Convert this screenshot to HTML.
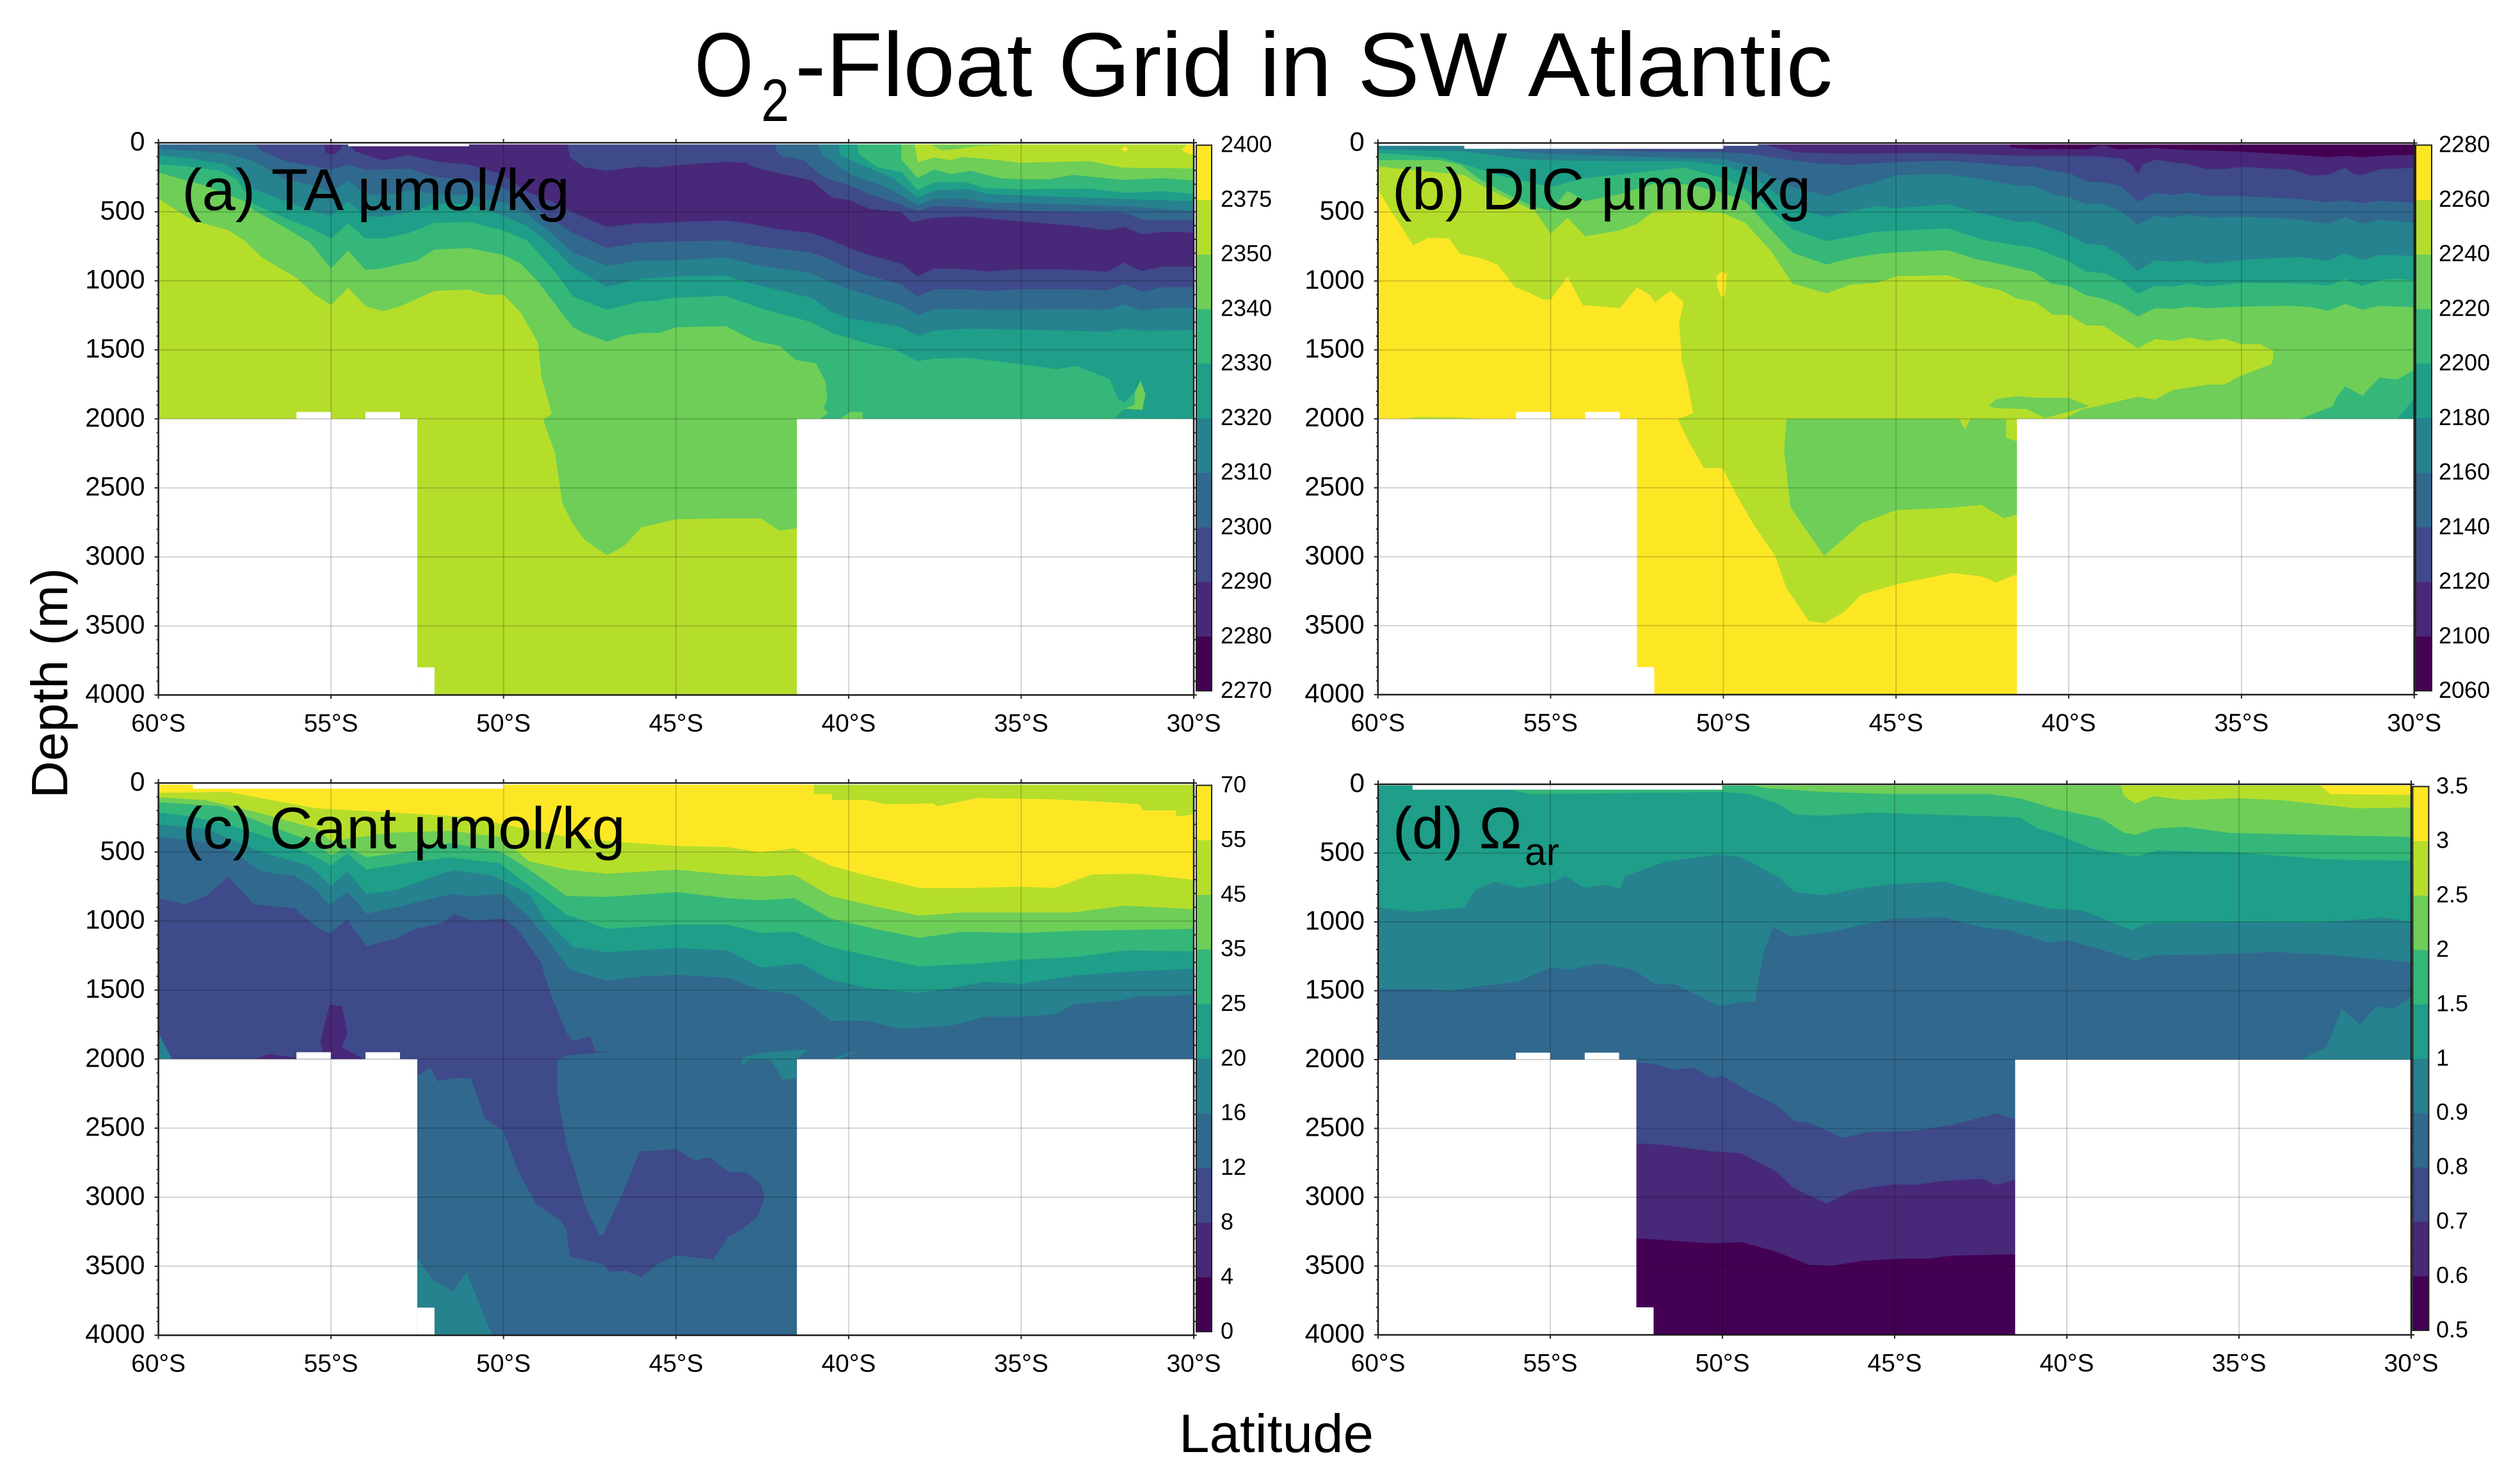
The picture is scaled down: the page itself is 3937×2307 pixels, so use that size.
<!DOCTYPE html>
<html lang="en">
<head>
<meta charset="utf-8">
<title>O2-Float Grid in SW Atlantic</title>
<style>
html,body{margin:0;padding:0;background:#fff;}
svg{display:block;}
text{font-family:"Liberation Sans",sans-serif;fill:#000;}
</style>
</head>
<body>
<svg id="figure" xmlns="http://www.w3.org/2000/svg" width="3937" height="2307" viewBox="0 0 3937 2307">
<rect x="0" y="0" width="3937" height="2307" fill="#fff"/>
<g id="panels"></g>
<g>
<text x="1085" y="150" font-size="142" textLength="92" lengthAdjust="spacingAndGlyphs">O</text>
<text x="1189" y="189" font-size="94" textLength="44" lengthAdjust="spacingAndGlyphs">2</text>
<text x="1242" y="150" font-size="142" textLength="1621" lengthAdjust="spacingAndGlyphs">-Float Grid in SW Atlantic</text>
</g>
<text transform="translate(105,1247) rotate(-90)" font-size="80" textLength="360" lengthAdjust="spacingAndGlyphs">Depth (m)</text>
<text x="1842" y="2268" font-size="84" textLength="304" lengthAdjust="spacingAndGlyphs">Latitude</text>
</svg>
<script>
/* ---------- shared ---------- */
const viridisBands = ['#440154','#482878','#3e4a89','#31688e','#26828e','#1f9e89','#35b779','#6ece58','#b5de2b','#fde725'];
const latTicks = [-60,-55,-50,-45,-40,-35,-30];
const latTickLabels = ['60°S','55°S','50°S','45°S','40°S','35°S','30°S'];
const depthTicks = [0,500,1000,1500,2000,2500,3000,3500,4000];
const depthTickLabels = ['0','500','1000','1500','2000','2500','3000','3500','4000'];

/* ---------- colourbar labels ---------- */
const taLevelLabels = ['2270','2280','2290','2300','2310','2320','2330','2340','2350','2375','2400'];
const dicLevelLabels = ['2060','2100','2120','2140','2160','2180','2200','2220','2240','2260','2280'];
const cantLevelLabels = ['0','4','8','12','16','20','25','35','45','55','70'];
const omegaLevelLabels = ['0.5','0.6','0.7','0.8','0.9','1','1.5','2','2.5','3','3.5'];

/* ---------- missing-data masks: [lat west, lat east, depth top, depth bottom] ---------- */
const floorMaskTA = [[-60,-52.5,2000,4000],[-52.5,-52,3800,4000],[-41.5,-30,2000,4000],[-56,-55,1950,2000],[-54,-53,1950,2000],[-60,-30,0,12],[-54.5,-51,0,25]];
const floorMaskDIC = [[-60,-52.5,2000,4000],[-52.5,-52,3800,4000],[-41.5,-30,2000,4000],[-56,-55,1950,2000],[-54,-53,1950,2000],[-60,-49,0,20],[-49,-30,0,10],[-57.5,-50,0,42]];
const floorMaskCant = [[-60,-52.5,2000,4000],[-52.5,-52,3800,4000],[-41.5,-30,2000,4000],[-56,-55,1950,2000],[-54,-53,1950,2000],[-60,-30,0,12],[-59,-50,0,41]];
const floorMaskOmega = [[-60,-52.5,2000,4000],[-52.5,-52,3800,4000],[-41.5,-30,2000,4000],[-56,-55,1950,2000],[-54,-53,1950,2000],[-60,-30,0,8],[-59,-50,0,39]];

/* ---------- (a) TA contours: [latitude, depth] ---------- */
const ta2350 = [[-60,405],[-59,565],[-58,630],[-57.5,710],[-57,830],[-56,980],[-55.5,1095],[-55,1175],[-54.5,1050],[-54,1185],[-53.5,1220],[-53,1185],[-52,1073],[-51,1064],[-50.5,1100],[-50,1100],[-49.5,1230],[-49,1450],[-48.9,1700],[-48.6,1960],[-48.85,2010],[-48.5,2254],[-48.3,2610],[-48,2757],[-47.66,2875],[-47,2988],[-46.5,2920],[-46,2786],[-45,2727],[-43.5,2721],[-42.55,2721],[-42,2810],[-41.5,2792],[-30,2792]];
const ta2340 = [[-60,215],[-58.67,309],[-57.5,424],[-57.25,486],[-56.3,618],[-55.6,724],[-55,910],[-54.5,781],[-54,922],[-53.5,910],[-52.5,852],[-52,774],[-51,763],[-50,813],[-49.5,875],[-49,1007],[-48,1334],[-47.67,1378],[-47,1440],[-46.5,1396],[-46,1378],[-45.5,1378],[-45,1337],[-43.56,1328],[-42.73,1434],[-42,1470],[-41.54,1573],[-40.95,1597],[-40.66,1736],[-40.62,1860],[-40.72,1922],[-40.6,1957],[-40.83,2000],[-30,2000]];
const ta2330 = [[-60,155],[-59.27,168],[-58.2,203],[-57.73,265],[-57.25,442],[-56.3,548],[-55.5,627],[-55,693],[-54.5,583],[-54,694],[-53.5,694],[-52.75,654],[-52,580],[-51,574],[-50,636],[-49.33,707],[-49,795],[-48.5,937],[-48,1113],[-47,1210],[-46.04,1149],[-45.57,1145],[-45,1122],[-43.56,1110],[-42.5,1202],[-41.07,1299],[-40.48,1378],[-39.41,1458],[-38.7,1493],[-38,1582],[-37.52,1564],[-36.57,1558],[-35.04,1604],[-33.97,1640],[-33.38,1617],[-32.43,1714],[-32.2,1855],[-32,1882],[-31.7,1802],[-31.72,1908],[-32,1930],[-32.32,1995],[-30,2000]];
const ta2320 = [[-60,88],[-59.03,115],[-58,159],[-57.25,336],[-56.3,424],[-55.5,495],[-55,530],[-54.5,424],[-54,530],[-53.5,539],[-52.75,504],[-52,442],[-51,442],[-50,530],[-49.33,601],[-48.62,742],[-48,901],[-47,1043],[-46.04,986],[-45,968],[-43.56,963],[-42.73,1025],[-41.07,1122],[-40.48,1228],[-40,1272],[-38.47,1334],[-38,1399],[-37.52,1361],[-36.57,1346],[-33.5,1361],[-32.5,1369],[-32.02,1343],[-31.51,1361],[-30,1357]];
const ta2310 = [[-60,44],[-59.03,57],[-58,80],[-57.25,133],[-56.3,265],[-55.5,309],[-55,362],[-54.5,274],[-54,371],[-53.5,380],[-52.75,345],[-52,371],[-51,380],[-50,433],[-49.33,512],[-48.62,654],[-48,795],[-47,892],[-46.04,852],[-45,852],[-43.56,830],[-42.73,884],[-41.07,945],[-40.48,1016],[-40,1060],[-38.47,1175],[-38,1251],[-37.52,1202],[-35.98,1210],[-33.5,1207],[-32.5,1210],[-32.02,1170],[-31.51,1216],[-30.9,1193],[-30,1198]];
const ta2300 = [[-57.25,0],[-57,62],[-56.3,133],[-55.5,168],[-55,194],[-54.5,159],[-54,194],[-53.5,194],[-52.75,186],[-52,247],[-51,265],[-50,327],[-49.33,424],[-48.62,548],[-48,654],[-47,763],[-46.04,721],[-45,716],[-43.56,707],[-42.73,746],[-41.07,795],[-40.48,852],[-40,910],[-39.41,963],[-38.47,1025],[-38,1113],[-37.52,1060],[-36.57,1060],[-35.98,1073],[-35.04,1060],[-33.5,1060],[-32.5,1069],[-32.02,1025],[-31.51,1078],[-30.9,1046],[-30,1046]];
const ta2290 = [[-54.5,0],[-54.3,62],[-53.5,127],[-52.75,88],[-52,133],[-51,159],[-50,230],[-49.33,353],[-48.62,424],[-48,504],[-47,610],[-46.04,580],[-45.57,583],[-45,574],[-43.56,562],[-42.73,592],[-42.02,627],[-41.07,654],[-40.48,707],[-40,760],[-39.41,813],[-38.47,875],[-38,968],[-37.52,910],[-36.57,915],[-35.98,933],[-35.04,914],[-33.5,919],[-32.5,933],[-32.02,869],[-31.51,928],[-30.9,898],[-30,896]];
const taUpper3e = [[-48.38,0],[-48.14,18],[-48.08,106],[-47.67,177],[-47,203],[-46.04,173],[-45.57,180],[-45,163],[-43.56,138],[-42.96,145],[-42.73,177],[-42.02,221],[-41.07,274],[-40.48,398],[-40,415],[-39.41,477],[-38.47,504],[-38.17,574],[-37.52,544],[-36.57,534],[-35.04,569],[-33.5,601],[-32.5,633],[-32.02,610],[-31.51,663],[-30.9,645],[-30,650]];
const taUpper31 = [[-42.14,0],[-42.08,62],[-41.96,97],[-41.3,127],[-40.83,230],[-40.48,274],[-40,304],[-39.41,371],[-38.47,451],[-38,495],[-37.52,459],[-36.57,468],[-34.98,495],[-33.02,504],[-32.02,509],[-31.49,557],[-30,557]];
const taUpper26 = [[-40.9,0],[-40.78,88],[-40.48,133],[-39.89,239],[-38.94,318],[-38,451],[-37.52,406],[-36.57,406],[-35.98,433],[-34.2,442],[-32.02,459],[-30,495]];
const taUpper1f = [[-40.3,0],[-40.24,88],[-39.65,159],[-38.7,256],[-38,398],[-37.52,345],[-36.57,336],[-35.98,371],[-34.2,389],[-32.08,406],[-30,424]];
const taUpper35 = [[-39.77,0],[-39.71,80],[-39.18,177],[-38.47,212],[-38,345],[-37.52,286],[-36.57,286],[-36.1,327],[-35.04,336],[-33.02,332],[-31.96,362],[-30.9,350],[-30,371]];
const taUpper6e = [[-38.47,0],[-38.47,124],[-38,256],[-37.52,194],[-37.05,226],[-36.46,203],[-35.63,256],[-35.04,265],[-34.2,265],[-33.5,233],[-32.02,269],[-30.9,256],[-30,274]];
const taUpperB5 = [[-38.09,0],[-38,141],[-37.52,106],[-37.05,127],[-36.7,102],[-35.63,127],[-35.04,145],[-33.02,133],[-32.08,180],[-30,186]];
const taBlobPurple = [[-55.2,15],[-54.65,15],[-54.8,70],[-55,88],[-55.15,70]];
const taPatchShelf = [[-40.24,2000],[-39.95,1950],[-39.6,1950],[-39.6,2000]];
const taPatchEast = [[-31.54,1723],[-31.4,1820],[-31.49,1935],[-32.02,1926],[-31.72,1900],[-31.7,1802]];
const taPatchSurface = [[-37.3,55],[-36.9,45],[-36.3,25],[-35.5,15],[-37.6,15]];
const taYellowEdge = [[-30.35,50],[-30.2,15],[-30,15],[-30,85],[-30.2,75]];
const taYellowDot = [[-32.1,45],[-32,25],[-31.9,45],[-32,65]];
const taBands = [[7,ta2350,'above'],[6,ta2340,'above'],[5,ta2330,'above'],[4,ta2320,'above'],[3,ta2310,'above'],[2,ta2300,'above'],[1,ta2290,'above'],[2,taUpper3e,'above'],[3,taUpper31,'above'],[4,taUpper26,'above'],[5,taUpper1f,'above'],[6,taUpper35,'above'],[7,taUpper6e,'above'],[8,taUpperB5,'above'],[1,taBlobPurple,'closed'],[7,taPatchShelf,'closed'],[7,taPatchEast,'closed'],[7,taPatchSurface,'closed'],[9,taYellowEdge,'closed'],[9,taYellowDot,'closed']];

/* ---------- (b) DIC contours ---------- */
const dic2260 = [[-60,340],[-59.67,472],[-59.27,626],[-58.98,742],[-58.54,688],[-57.95,691],[-57.61,804],[-56.92,843],[-56.53,884],[-56.04,1044],[-55.64,1082],[-55.25,1133],[-55,1136],[-54.51,969],[-54.07,1175],[-53,1198],[-52.5,1047],[-52.11,1105],[-51.99,1155],[-51.52,1070],[-51.15,1155],[-51.28,1306],[-51.2,1585],[-51.03,1755],[-50.91,1909],[-50.88,1958],[-51.32,2003],[-51,2165],[-50.56,2358],[-50.02,2358],[-49.69,2520],[-49.15,2757],[-48.5,2994],[-48.17,3230],[-47.52,3467],[-47.08,3482],[-46.54,3408],[-46,3275],[-45,3201],[-43.39,3118],[-42.53,3142],[-42.09,3186],[-41.5,3127],[-30,3127]];
const dic2240 = [[-60,170],[-59.08,193],[-57.51,232],[-57.11,294],[-56.33,394],[-55.45,495],[-55,657],[-54.51,541],[-54,676],[-53,634],[-52.5,587],[-52.01,495],[-51.03,487],[-50,510],[-49.36,580],[-48.63,781],[-47.99,1020],[-47.01,1090],[-46.33,1028],[-45.54,1013],[-45,966],[-43.5,959],[-42.47,1044],[-41.98,1067],[-41.5,1129],[-41,1149],[-40.46,1245],[-40,1245],[-39.5,1322],[-39,1325],[-38.5,1407],[-38,1489],[-37.5,1422],[-37,1435],[-36.5,1410],[-36,1435],[-35.5,1419],[-35,1458],[-34.47,1458],[-34.08,1507],[-34.08,1554],[-34.13,1603],[-35,1685],[-35.5,1752],[-36,1752],[-37,1793],[-37.5,1860],[-38,1840],[-38.54,1871],[-39.27,1914],[-39.6,1929],[-40.14,2003],[-30,2000]];
const dic2220 = [[-60,124],[-58.2,124],[-57.6,159],[-57.11,255],[-56.33,363],[-55.54,456],[-55,495],[-54.51,345],[-54,422],[-53,371],[-52.01,294],[-50.93,301],[-50,363],[-49.36,425],[-48.63,626],[-47.99,796],[-47.01,881],[-46.33,835],[-45.54,804],[-45,793],[-43.5,776],[-42.66,843],[-41.87,884],[-41,935],[-40.5,1020],[-40,1036],[-39.5,1105],[-39,1129],[-38.54,1175],[-38,1257],[-37.5,1198],[-37,1203],[-36.5,1186],[-36,1198],[-35,1186],[-33.54,1180],[-33,1190],[-32.5,1217],[-32,1167],[-31.5,1209],[-31,1180],[-30,1190]];
const dic2200 = [[-60,73],[-59.08,85],[-58.1,108],[-57.4,162],[-56.63,224],[-55.9,271],[-55,317],[-54,255],[-51.15,178],[-50,255],[-49.36,332],[-48.63,487],[-47.99,626],[-47.01,711],[-46.33,680],[-45.54,642],[-45,638],[-43.5,618],[-42.47,703],[-41.5,742],[-41,758],[-40,858],[-39.5,932],[-39,943],[-38.5,997],[-38,1093],[-37.5,1036],[-37,1041],[-36.5,1020],[-36,1041],[-35,1013],[-33,1020],[-32.5,1036],[-32,985],[-31.5,1036],[-31,994],[-30.5,982],[-30,997]];
const dic2180 = [[-60,46],[-57.51,60],[-56.33,100],[-55.45,124],[-53.2,131],[-51,131],[-50,162],[-49.26,224],[-48.5,363],[-47.99,472],[-47.01,536],[-46.33,495],[-45.54,456],[-45,472],[-43.5,444],[-42.66,502],[-41.5,572],[-41,569],[-40,665],[-39.5,731],[-39,742],[-38.5,812],[-38,928],[-37.5,850],[-37,861],[-36.5,850],[-36,878],[-35,846],[-33.3,827],[-32.5,855],[-32,799],[-31.5,850],[-31,809],[-30,819]];
const dic2160 = [[-60,20],[-57.51,20],[-56.5,46],[-55.45,70],[-55,77],[-53.19,93],[-50,116],[-49.26,162],[-48.5,255],[-47.99,317],[-47.01,386],[-46.33,332],[-45.54,278],[-45,232],[-43.5,227],[-42.47,263],[-41.5,309],[-41,309],[-40.5,371],[-40,394],[-39.5,441],[-39,441],[-38.5,495],[-38,592],[-37.5,526],[-37,541],[-36.5,518],[-36,541],[-35,533],[-33.54,549],[-32.5,587],[-32,538],[-31.5,587],[-31,557],[-30,580]];
const dic2140 = [[-54.6,0],[-54.17,42],[-53.19,54],[-51.72,62],[-50,66],[-49.26,77],[-48.5,108],[-47.32,147],[-46.33,159],[-45,139],[-43.5,128],[-42.47,147],[-41.5,170],[-41,170],[-40.5,201],[-40,216],[-39.5,278],[-39,286],[-38.5,309],[-38,425],[-37.5,360],[-37,376],[-36.5,360],[-36,382],[-35,386],[-33.5,402],[-32.5,430],[-32,413],[-31.5,437],[-31,417],[-30,433]];
const dic2120 = [[-48.9,0],[-48.5,31],[-47.8,70],[-46.3,77],[-45,73],[-43.5,73],[-41.5,93],[-40,93],[-39,97],[-38.44,116],[-38.15,162],[-38,224],[-37.85,155],[-37.5,121],[-36.5,155],[-36,189],[-35.5,189],[-35,173],[-33.54,193],[-33,235],[-32.5,229],[-32,178],[-31.77,224],[-31.5,232],[-31,189],[-30,181]];
const dic2100 = [[-41.7,0],[-41.7,31],[-41,46],[-40.5,42],[-39.5,46],[-39.2,25],[-39,15],[-38.6,46],[-37.5,36],[-36.5,51],[-35,62],[-33,93],[-32.5,104],[-32,93],[-31.5,104],[-31,93],[-30,85]];
const dicYellowSpot = [[-50.2,966],[-50.05,932],[-49.9,951],[-49.95,1105],[-50.05,1118],[-50.17,1044]];
const dicLimeSliver = [[-59.4,2000],[-58.8,1985],[-57.6,1990],[-57,2000]];
const dicPatchMid = [[-42.32,1906],[-42.08,1855],[-41.49,1835],[-41,1847],[-40.01,1847],[-39.43,1906],[-39.49,1914],[-39.92,1943],[-40.68,1994],[-41.22,1929],[-42.09,1923]];
const dicPatchDeep = [[-48.17,2000],[-48.24,2225],[-48.06,2639],[-47.74,2757],[-47.08,2994],[-46,2757],[-45,2662],[-43.39,2645],[-42.53,2624],[-41.88,2721],[-41.5,2692],[-41.5,2165],[-41.81,2136],[-41.81,2003],[-42.85,2000],[-43,2077],[-43.18,2000]];
const dicPatchEast = [[-33.3,2000],[-32.36,1909],[-32.26,1847],[-32,1766],[-31.5,1832],[-31,1701],[-30.5,1716],[-30,1646],[-30,2000]];
const dicPatchCorner = [[-30.5,2000],[-30,1855],[-30,2000]];
const dicBands = [[8,dic2260,'above'],[8,dicLimeSliver,'closed'],[9,dicYellowSpot,'closed'],[7,dic2240,'above'],[7,dicPatchMid,'closed'],[7,dicPatchDeep,'closed'],[6,dic2220,'above'],[6,dicPatchEast,'closed'],[5,dicPatchCorner,'closed'],[5,dic2200,'above'],[4,dic2180,'above'],[3,dic2160,'above'],[2,dic2140,'above'],[1,dic2120,'above'],[0,dic2100,'above']];

/* ---------- (c) Cant contours ---------- */
const cant12Tongue = [[-60,834],[-59.25,879],[-58.62,819],[-57.98,680],[-57.23,879],[-56.06,908],[-55.42,1041],[-55.04,1092],[-54.53,988],[-53.97,1183],[-53.08,1124],[-52.55,1056],[-51.8,1018],[-51.44,947],[-50.95,997],[-50,982],[-49.57,1071],[-48.93,1293],[-48.61,1544],[-48.18,1810],[-47.97,1869],[-47.5,1834],[-47.33,1944],[-46.95,1949],[-48.18,1973],[-48.44,2003],[-48.44,2254],[-48.18,2609],[-47.86,2875],[-47.65,3053],[-47.23,3275],[-47.12,3275],[-46.59,2993],[-46.05,2668],[-44.99,2653],[-44.46,2736],[-44.03,2712],[-43.5,2816],[-42.97,2822],[-42.54,2905],[-42.44,3008],[-42.65,3141],[-43.07,3230],[-43.5,3289],[-43.92,3452],[-44.99,3422],[-45.52,3482],[-46.01,3579],[-46.48,3532],[-46.91,3541],[-47.12,3482],[-48.08,3431],[-48.18,3230],[-48.4,3156],[-49.04,3053],[-49.57,2816],[-50,2521],[-50.53,2431],[-50.95,2136],[-51.38,2136],[-51.91,2159],[-52.12,2062],[-52.5,2121],[-52.5,2003],[-60,2003]];
const cant8Blob = [[-55.04,1603],[-54.68,1618],[-54.53,1810],[-54.68,1914],[-54.04,2003],[-57.23,2003],[-56.81,1964],[-56.06,1988],[-55.21,1988],[-55.3,1869]];
const cant16CornerW = [[-60,1810],[-59.68,1964],[-59.6,2003],[-60,2003]];
const cant16Mid = [[-43.12,2053],[-43.07,1988],[-42.65,1958],[-42.22,1949],[-41.16,1929],[-41.52,2000],[-41.52,2140],[-41.9,2150],[-42.27,2003],[-42.85,2003]];
const cant16Sliver = [[-40.52,2003],[-39.88,1944],[-39.77,1944],[-40.3,2003]];
const cant16Deep = [[-52.5,3443],[-52.06,3600],[-51.48,3680],[-51.06,3541],[-50.53,3881],[-50.31,4000],[-52.02,4000],[-52.02,3807],[-52.5,3807]];
const cant16 = [[-60,390],[-58.4,435],[-57.76,509],[-57.02,642],[-56.06,671],[-55.42,775],[-55.04,888],[-54.53,784],[-53.97,947],[-53.08,899],[-51.8,819],[-51.44,805],[-50.95,819],[-50,805],[-49.35,952],[-48.93,1071],[-48.08,1352],[-47.01,1432],[-46.05,1402],[-44.99,1390],[-43.5,1411],[-42.54,1500],[-41.58,1529],[-40.84,1662],[-40.52,1722],[-39.45,1722],[-38.5,1781],[-37.01,1757],[-36.05,1692],[-34.98,1692],[-34.03,1677],[-33.49,1603],[-32.11,1574],[-31.58,1544],[-30.73,1544],[-30,1529]];
const cant20 = [[-60,302],[-58.62,331],[-57.66,435],[-56.91,509],[-55.64,598],[-55,745],[-54.53,642],[-53.97,805],[-53.08,775],[-51.8,657],[-51.44,633],[-50.31,671],[-49.25,805],[-48.82,982],[-47.97,1189],[-47.01,1225],[-44.99,1195],[-43.5,1213],[-42.54,1337],[-41.37,1308],[-40.52,1426],[-39.45,1485],[-37.96,1520],[-37.01,1485],[-36.05,1441],[-34.98,1455],[-33.49,1396],[-32,1367],[-30,1346]];
const cant25 = [[-60,213],[-59.04,243],[-57.98,302],[-56.49,420],[-55.42,538],[-55,598],[-54.53,509],[-53.97,627],[-52.87,583],[-51.59,538],[-50.1,583],[-49.25,745],[-48.18,952],[-47.01,1056],[-44.99,1026],[-43.5,1026],[-42.54,1086],[-41.58,1077],[-40.52,1189],[-39.45,1248],[-37.96,1328],[-36.26,1308],[-34.98,1278],[-33.49,1263],[-32,1213],[-30,1219]];
const cant35 = [[-60,139],[-58.19,169],[-56.7,317],[-55.42,435],[-55,524],[-54.53,464],[-53.97,538],[-52.65,494],[-51.59,435],[-50.1,494],[-49.25,627],[-48.18,819],[-47.01,825],[-44.99,790],[-43.5,834],[-42.54,849],[-41.58,834],[-40.52,982],[-39.24,1056],[-37.96,1121],[-36.69,1077],[-35,1086],[-33.49,1071],[-32,1065],[-30,1056]];
const cant45 = [[-60,104],[-58.62,124],[-57.13,213],[-55.42,331],[-55,420],[-53.29,361],[-51.59,346],[-50.1,390],[-49.25,568],[-48.18,627],[-47.01,657],[-44.99,627],[-43.5,663],[-42.54,677],[-41.58,666],[-40.52,819],[-39.24,893],[-37.96,961],[-36.69,938],[-35,938],[-33.49,938],[-32,888],[-30,914]];
const cant55 = [[-60,71],[-57.98,65],[-55.42,183],[-53.29,213],[-51.16,243],[-49.04,346],[-48.18,390],[-47.01,420],[-44.99,456],[-43.5,464],[-42.54,503],[-41.58,473],[-40.52,598],[-39.45,671],[-37.96,760],[-36.47,760],[-35,751],[-34.03,760],[-32.96,663],[-31.58,657],[-30,701]];
const cantSurfaceLime = [[-41.01,0],[-41.01,80],[-40.48,80],[-40.48,124],[-39.45,124],[-38.92,154],[-37.54,148],[-37.43,169],[-36.26,109],[-34.13,118],[-32.43,139],[-31.58,154],[-31.47,198],[-30.51,198],[-30.51,243],[-30,228],[-30,0]];
const cantBands = [[2,cant12Tongue,'closed'],[1,cant8Blob,'closed'],[4,cant16CornerW,'closed'],[4,cant16Mid,'closed'],[4,cant16Sliver,'closed'],[4,cant16Deep,'closed'],[4,cant16,'above'],[5,cant20,'above'],[6,cant25,'above'],[7,cant35,'above'],[8,cant45,'above'],[9,cant55,'above'],[8,cantSurfaceLime,'closed']];

/* ---------- (d) Omega contours ---------- */
const omega06 = [[-60,3299],[-52.49,3299],[-52.05,3305],[-50.31,3335],[-49.44,3326],[-48.46,3394],[-47.48,3492],[-46.83,3498],[-45.96,3463],[-45,3448],[-43.99,3445],[-43.34,3424],[-41.54,3415],[-30,3415]];
const omega07 = [[-60,2608],[-52.49,2608],[-51.62,2623],[-50.31,2667],[-49.44,2682],[-48.46,2810],[-47.92,2934],[-46.98,3047],[-46.17,2949],[-45,2905],[-44.43,2911],[-43.56,2881],[-42.47,2866],[-42.04,2911],[-41.54,2875],[-30,2875]];
const omega08 = [[-60,2000],[-52.49,2000],[-52.49,2021],[-52.05,2029],[-51.4,2074],[-50.86,2059],[-50.31,2133],[-49.98,2118],[-49.22,2237],[-48.46,2326],[-47.92,2445],[-47.48,2460],[-46.5,2569],[-45.74,2525],[-44.43,2519],[-43.34,2475],[-42.04,2391],[-41.54,2430],[-30,2430]];
const omega09 = [[-60,1486],[-58.58,1486],[-57.93,1501],[-57.06,1466],[-55.97,1436],[-54.97,1332],[-54.45,1347],[-53.58,1303],[-52.6,1347],[-51.94,1451],[-51.4,1451],[-50.09,1614],[-49.55,1584],[-49.05,1578],[-49,1481],[-48.79,1213],[-48.53,1036],[-48.03,1109],[-46.83,1071],[-45.74,1012],[-45,976],[-43.56,967],[-42.47,1041],[-41.6,1065],[-40.51,1154],[-40.01,1133],[-39.21,1184],[-38.01,1282],[-37.47,1243],[-35.94,1237],[-33.98,1219],[-32.46,1237],[-30,1294]];
const omega09East = [[-33.22,2000],[-32.46,1911],[-32.02,1629],[-31.48,1748],[-31.04,1614],[-30.5,1629],[-30,1540],[-30,2000]];
const omega10 = [[-60,893],[-59.02,926],[-57.5,896],[-57.17,768],[-56.63,709],[-55.86,754],[-54.97,715],[-54.56,665],[-54.01,754],[-53.47,730],[-52.97,754],[-52.82,665],[-51.62,561],[-50.09,510],[-49.44,531],[-48.35,679],[-47.92,783],[-47.05,807],[-45.96,754],[-45,724],[-43.56,709],[-42.26,798],[-40.51,902],[-39.53,917],[-38.12,1059],[-37.68,1012],[-35.07,1000],[-32.68,1006],[-30.82,967],[-30,1000]];
const omega15 = [[-57.06,0],[-55.54,71],[-49.98,56],[-49.22,71],[-48.35,145],[-47.92,220],[-47.05,229],[-45.74,205],[-41.38,240],[-40.84,323],[-40.4,353],[-39.21,472],[-38.01,525],[-37.36,481],[-35.07,495],[-32.46,546],[-30,555]];
const omega20 = [[-49.22,0],[-48.79,27],[-47.05,56],[-45,71],[-42.26,71],[-41.38,101],[-40.4,175],[-38.99,249],[-38.34,353],[-38.01,368],[-37.47,323],[-36.59,309],[-35.29,353],[-32.68,368],[-30,383]];
const omega25 = [[-38.45,0],[-38.34,86],[-38.01,139],[-37.47,86],[-36.59,116],[-35.07,101],[-33.76,116],[-32.46,151],[-31.59,175],[-30,169]];
const omega30 = [[-32.68,0],[-32.35,71],[-30,77]];
const omegaBands = [[1,omega06,'above'],[2,omega07,'above'],[3,omega08,'above'],[4,omega09,'above'],[4,omega09East,'closed'],[5,omega10,'above'],[6,omega15,'above'],[7,omega20,'above'],[8,omega25,'above'],[9,omega30,'above']];

/* ---------- panel registry (layout only; values live in the arrays above) ---------- */
const panelList = [
 {key:'ta',   base:8, bands:taBands,    mask:floorMaskTA,    labels:taLevelLabels,    x0:247.5, x1:1865,   y0:223,  y1:1085.5, cbX:1869,   cbW:24, cbTop:226.7,  cbBottom:1079, cbText:1907, title:'(a) TA µmol/kg',  titleX:284, titleY:328, titleW:606},
 {key:'dic',  base:9, bands:dicBands,   mask:floorMaskDIC,   labels:dicLevelLabels,   x0:2152.7,x1:3771.7, y0:223.4,y1:1085,   cbX:3774,   cbW:25, cbTop:226.6,  cbBottom:1079, cbText:3810, title:'(b) DIC µmol/kg', titleX:2175,titleY:327, titleW:654},
 {key:'cant', base:3, bands:cantBands,  mask:floorMaskCant,  labels:cantLevelLabels,  x0:247.5, x1:1865,   y0:1223, y1:2085.6, cbX:1869,   cbW:24, cbTop:1226.6, cbBottom:2080, cbText:1907, title:'(c) Cant µmol/kg',titleX:285, titleY:1325,titleW:692},
 {key:'omega',base:0, bands:omegaBands, mask:floorMaskOmega, labels:omegaLevelLabels, x0:2153,  x1:3767,   y0:1225, y1:2085,   cbX:3769.4, cbW:25, cbTop:1228.5, cbBottom:2078, cbText:3806, title:'(d) Ω',           titleX:2176,titleY:1325,titleW:202, sub:'ar'}
];

const NS = 'http://www.w3.org/2000/svg';
function addShape(parent, tag, attrs, name){
  const el = document.createElementNS(NS, tag);
  for (const k in attrs) el.setAttribute(k, attrs[k]);
  
  
  parent.appendChild(el);
  return el;
}

function drawPanel(p){
  const root = document.getElementById('panels');
  const g = addShape(root, 'g', {}, 'panel-' + p.key);
  const xScale = lat => p.x0 + (lat + 60) / 30 * (p.x1 - p.x0);
  const yScale = depth => p.y0 + depth / 4000 * (p.y1 - p.y0);
  const clipId = 'clip-' + p.key;
  const defs = addShape(g, 'defs', {}, 'panel-clip-defs');
  const clip = addShape(defs, 'clipPath', {id: clipId}, 'panel-clip');
  addShape(clip, 'rect', {x: p.x0, y: p.y0, width: p.x1 - p.x0, height: p.y1 - p.y0}, 'panel-clip-rect');

  const plot = addShape(g, 'g', {'clip-path': 'url(#' + clipId + ')'}, 'contour-field');
  addShape(plot, 'rect', {x: p.x0, y: p.y0, width: p.x1 - p.x0, height: p.y1 - p.y0, fill: viridisBands[p.base]}, 'contour-base-band');
  p.bands.forEach(function(band){
    const colorIndex = band[0], contour = band[1], mode = band[2];
    let pts = contour.map(c => xScale(c[0]).toFixed(1) + ',' + yScale(c[1]).toFixed(1));
    if (mode === 'above') {
      const first = contour[0], last = contour[contour.length - 1];
      pts = pts.concat([xScale(last[0]).toFixed(1) + ',' + yScale(0).toFixed(1), xScale(first[0]).toFixed(1) + ',' + yScale(0).toFixed(1)]);
    }
    addShape(plot, 'polygon', {points: pts.join(' '), fill: viridisBands[colorIndex]}, 'contour-band-' + p.labels[colorIndex]);
  });
  p.mask.forEach(function(m){
    addShape(plot, 'rect', {x: xScale(m[0]), y: yScale(m[2]), width: xScale(m[1]) - xScale(m[0]), height: yScale(m[3]) - yScale(m[2]), fill: '#fff'}, 'no-data-mask');
  });

  /* grid */
  latTicks.forEach(function(lat){
    addShape(g, 'line', {x1: xScale(lat), x2: xScale(lat), y1: p.y0, y2: p.y1, stroke: 'rgba(0,0,0,0.17)', 'stroke-width': 2}, 'lat-gridline');
  });
  depthTicks.forEach(function(d){
    addShape(g, 'line', {x1: p.x0, x2: p.x1, y1: yScale(d), y2: yScale(d), stroke: 'rgba(0,0,0,0.17)', 'stroke-width': 2}, 'depth-gridline');
  });

  /* spines */
  addShape(g, 'rect', {x: p.x0, y: p.y0, width: p.x1 - p.x0, height: p.y1 - p.y0, fill: 'none', stroke: '#1c1c1c', 'stroke-width': 2.5}, 'plot-frame');

  /* ticks */
  latTicks.forEach(function(lat, i){
    addShape(g, 'line', {x1: xScale(lat), x2: xScale(lat), y1: p.y0 - 6, y2: p.y0, stroke: '#222', 'stroke-width': 2}, 'top-tick');
    addShape(g, 'line', {x1: xScale(lat), x2: xScale(lat), y1: p.y1, y2: p.y1 + 6, stroke: '#222', 'stroke-width': 2}, 'bottom-tick');
    const label = addShape(g, 'text', {x: xScale(lat), y: p.y1 + 57, 'font-size': 39, 'text-anchor': 'middle'}, 'lat-tick-label');
    label.textContent = latTickLabels[i];
  });
  for (let d = 0; d <= 4000; d += 100) {
    const major = d % 500 === 0;
    const len = major ? 6 : 3;
    addShape(g, 'line', {x1: p.x0 - len, x2: p.x0, y1: yScale(d), y2: yScale(d), stroke: '#222', 'stroke-width': 2}, major ? 'left-major-tick' : 'left-minor-tick');
    addShape(g, 'line', {x1: p.x1, x2: p.x1 + (major ? 5 : 3), y1: yScale(d), y2: yScale(d), stroke: '#222', 'stroke-width': 2}, major ? 'right-major-tick' : 'right-minor-tick');
  }
  depthTicks.forEach(function(d, i){
    const label = addShape(g, 'text', {x: p.x0 - 21, y: yScale(d) + 12, 'font-size': 42, 'text-anchor': 'end'}, 'depth-tick-label');
    label.textContent = depthTickLabels[i];
  });

  /* colourbar */
  const cb = addShape(g, 'g', {}, 'colorbar-' + p.key);
  const step = (p.cbBottom - p.cbTop) / viridisBands.length;
  viridisBands.forEach(function(color, i){
    addShape(cb, 'rect', {x: p.cbX, y: p.cbBottom - (i + 1) * step, width: p.cbW, height: step + 0.5, fill: color}, 'colorbar-segment');
  });
  addShape(cb, 'rect', {x: p.cbX, y: p.cbTop, width: p.cbW, height: p.cbBottom - p.cbTop, fill: 'none', stroke: '#222', 'stroke-width': 2}, 'colorbar-frame');
  p.labels.forEach(function(text, i){
    const label = addShape(cb, 'text', {x: p.cbText, y: p.cbBottom - i * step + 11, 'font-size': 36}, 'colorbar-tick-label');
    label.textContent = text;
  });

  /* panel title */
  const t = addShape(g, 'text', {x: p.titleX, y: p.titleY, 'font-size': 92, textLength: p.titleW, lengthAdjust: 'spacingAndGlyphs'}, 'panel-title');
  t.textContent = p.title;
  if (p.sub) {
    const s = addShape(g, 'text', {x: p.titleX + p.titleW + 4, y: p.titleY + 26, 'font-size': 60, textLength: 54, lengthAdjust: 'spacingAndGlyphs'}, 'panel-title-subscript');
    s.textContent = p.sub;
  }
}
panelList.forEach(drawPanel);
</script>
</body>
</html>
